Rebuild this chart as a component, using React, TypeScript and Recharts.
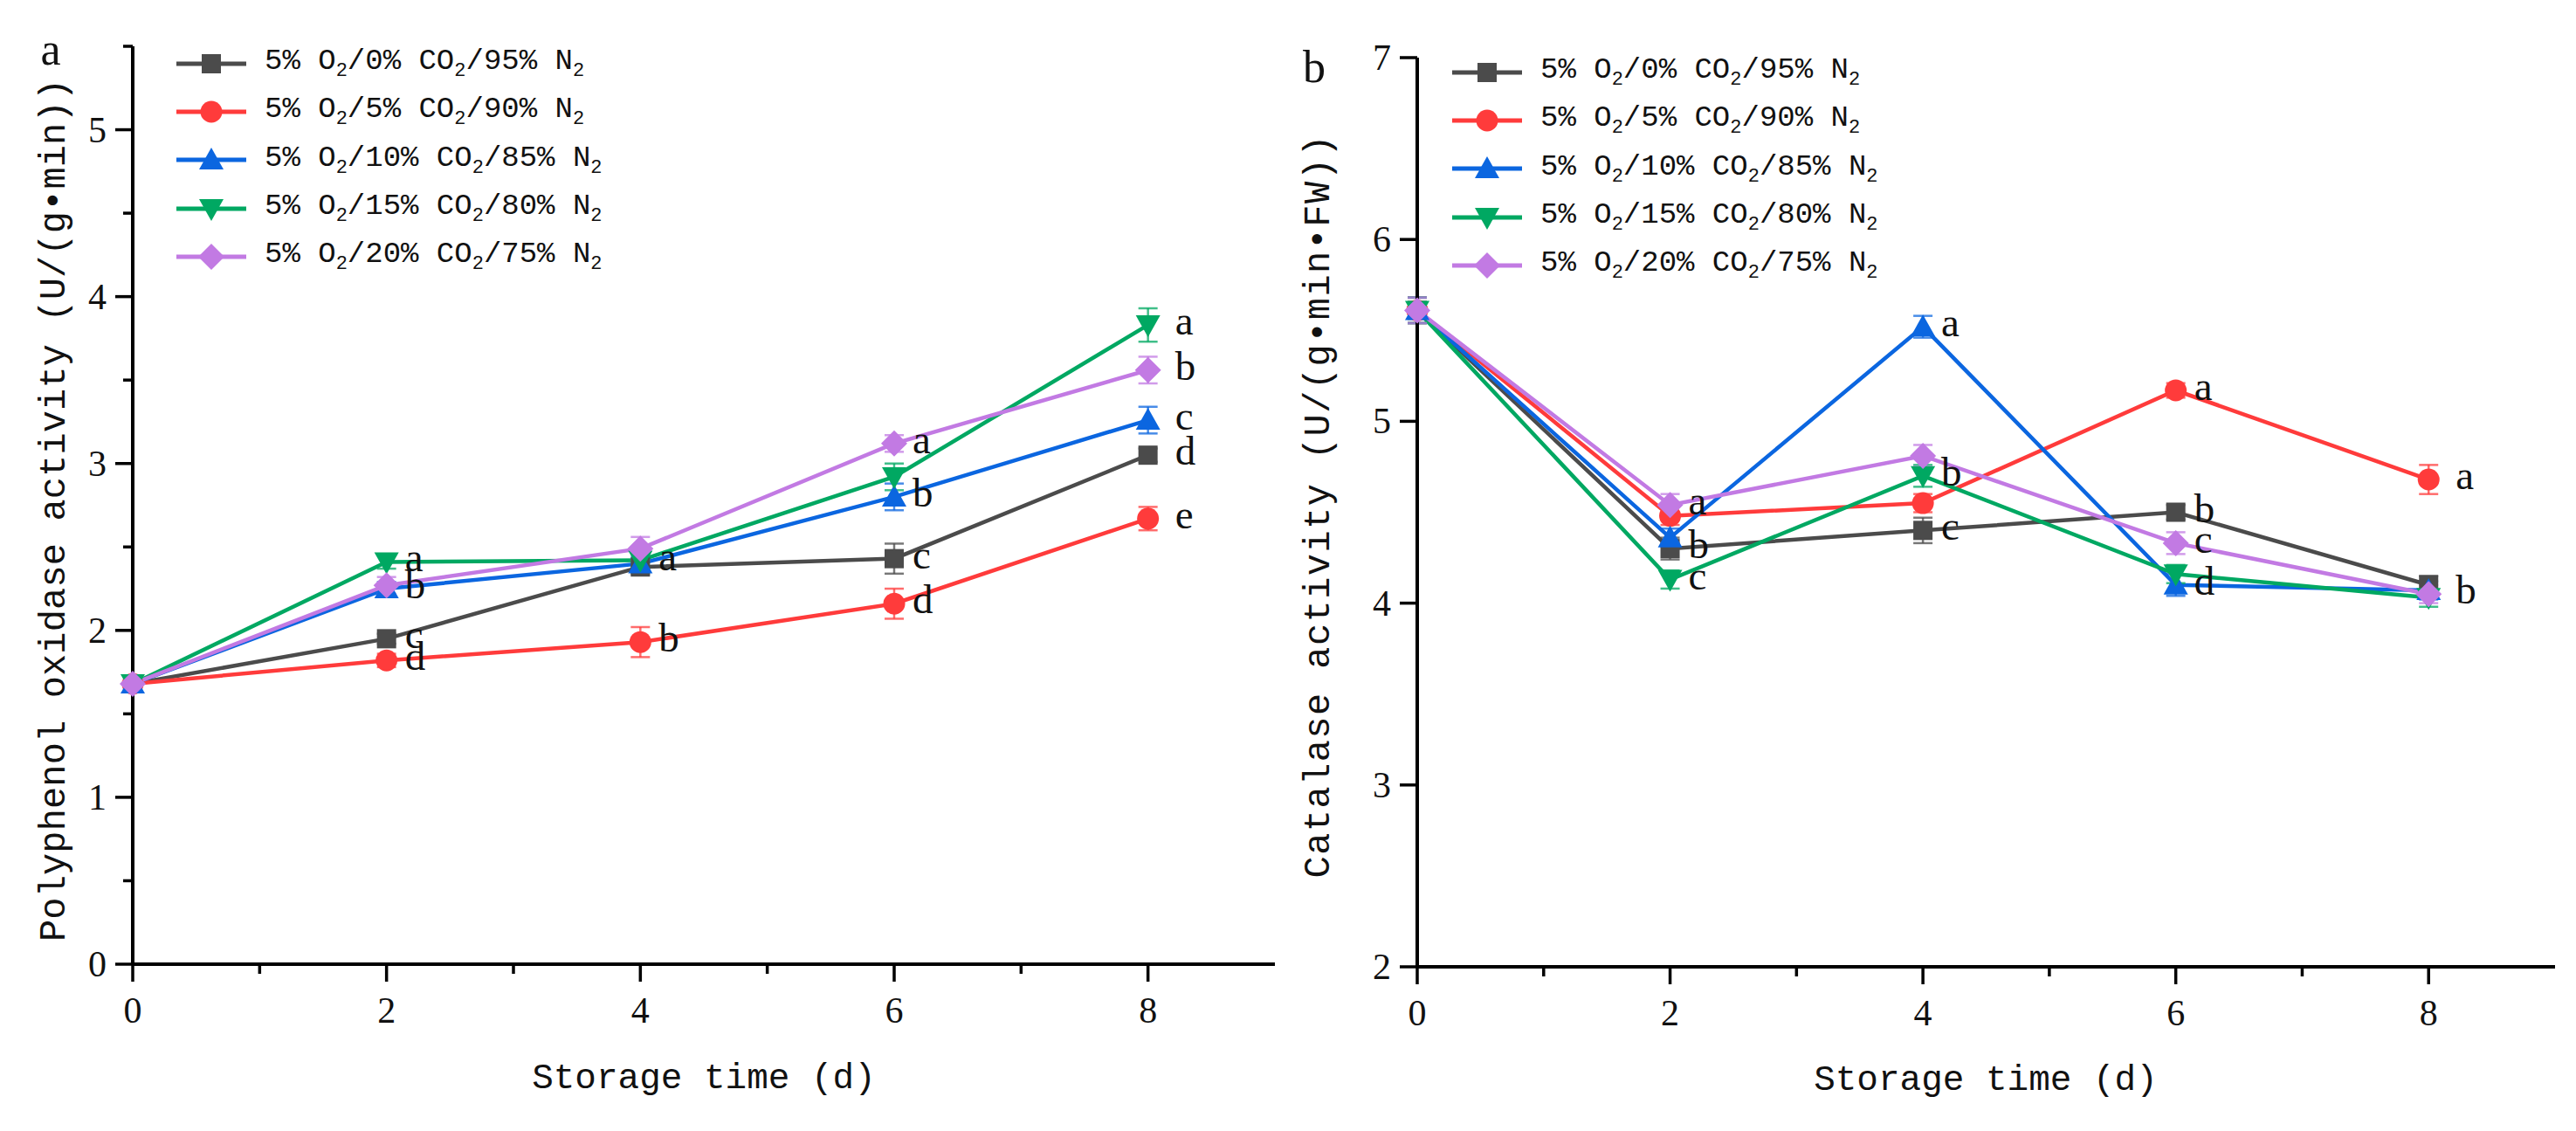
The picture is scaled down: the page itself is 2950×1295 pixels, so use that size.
import React from 'react';
import { ErrorBar, LabelList, Line, LineChart, XAxis, YAxis } from 'recharts';

// storage days
const days = [0, 2, 4, 6, 8];

// legend parts: 5% O2 / x% CO2 / y% N2
const co2Levels = ['0%', '5%', '10%', '15%', '20%'];
const n2Levels = ['95%', '90%', '85%', '80%', '75%'];

// polyphenol oxidase activity, one row per atmosphere
const ppoMeans = [
  [1.68, 1.95, 2.38, 2.43, 3.05],
  [1.68, 1.82, 1.93, 2.16, 2.67],
  [1.68, 2.25, 2.40, 2.80, 3.26],
  [1.68, 2.41, 2.42, 2.92, 3.83],
  [1.68, 2.27, 2.49, 3.12, 3.56],
];
const ppoErrors = [
  [0.03, 0.03, 0.04, 0.09, 0.04],
  [0.03, 0.04, 0.09, 0.09, 0.07],
  [0.03, 0.04, 0.04, 0.08, 0.08],
  [0.03, 0.04, 0.04, 0.08, 0.1],
  [0.03, 0.05, 0.07, 0.05, 0.08],
];
const ppoLetters = [
  ['', 'c', '', 'c', 'd'],
  ['', 'd', 'b', 'd', 'e'],
  ['', 'b', '', 'b', 'c'],
  ['', 'a', 'a', '', 'a'],
  ['', '', '', 'a', 'b'],
];

// catalase activity
const catMeans = [
  [5.61, 4.30, 4.40, 4.50, 4.10],
  [5.61, 4.48, 4.55, 5.17, 4.68],
  [5.61, 4.36, 5.52, 4.10, 4.07],
  [5.61, 4.13, 4.70, 4.16, 4.03],
  [5.61, 4.54, 4.81, 4.33, 4.05],
];
const catErrors = [
  [0.07, 0.06, 0.07, 0.04, 0.05],
  [0.07, 0.05, 0.05, 0.04, 0.08],
  [0.07, 0.05, 0.06, 0.06, 0.05],
  [0.07, 0.05, 0.06, 0.05, 0.05],
  [0.07, 0.06, 0.06, 0.06, 0.05],
];
const catLetters = [
  ['', 'b', 'c', 'b', ''],
  ['', '', '', 'a', 'a'],
  ['', '', 'a', 'd', ''],
  ['', 'c', 'b', '', ''],
  ['', 'a', '', 'c', 'b'],
];

const xTicks = [0, 1, 2, 3, 4, 5, 6, 7, 8];
const ppoTicks = [0, 0.5, 1, 1.5, 2, 2.5, 3, 3.5, 4, 4.5, 5, 5.5];
const catTicks = [2, 3, 4, 5, 6, 7];

const COLORS = ['#4b4b4b', '#ff3b3b', '#0b66e0', '#00a862', '#c27ae3'];
const SHAPES = ['square', 'circle', 'triangle', 'triangleDown', 'diamond'];

const MONO = '"Liberation Mono", "DejaVu Sans Mono", monospace';
const SERIF = '"Liberation Serif", "Times New Roman", serif';

function buildRows(means: number[][], errors: number[][], letters: string[][]) {
  return days.map((day, i) => {
    const row: Record<string, number | string> = { day };
    means.forEach((m, k) => {
      row[`v${k}`] = m[i];
      row[`e${k}`] = errors[k][i];
      row[`l${k}`] = letters[k][i];
    });
    return row;
  });
}

function Marker({ shape, cx, cy, color }: { shape: string; cx: number; cy: number; color: string }) {
  if (shape === 'square') return <rect x={cx - 11} y={cy - 11} width={22} height={22} fill={color} />;
  if (shape === 'circle') return <circle cx={cx} cy={cy} r={12.5} fill={color} />;
  if (shape === 'triangle')
    return <polygon points={`${cx},${cy - 14} ${cx - 14},${cy + 11} ${cx + 14},${cy + 11}`} fill={color} />;
  if (shape === 'triangleDown')
    return <polygon points={`${cx - 14},${cy - 11} ${cx + 14},${cy - 11} ${cx},${cy + 14}`} fill={color} />;
  return <polygon points={`${cx},${cy - 15} ${cx + 15},${cy} ${cx},${cy + 15} ${cx - 15},${cy}`} fill={color} />;
}

function XTick(props: any) {
  const { x, y, payload } = props;
  const major = payload.value % 2 === 0;
  return (
    <g>
      <line x1={x} x2={x} y1={y} y2={y + (major ? 20 : 11)} stroke="#000" strokeWidth={3.5} />
      {major && (
        <text x={x} y={y + 67} textAnchor="middle" fontFamily={SERIF} fontSize={42} fill="#111">
          {payload.value}
        </text>
      )}
    </g>
  );
}

function YTick(props: any) {
  const { x, y, payload } = props;
  const major = Number.isInteger(payload.value);
  return (
    <g>
      <line x1={x} x2={x - (major ? 20 : 11)} y1={y} y2={y} stroke="#000" strokeWidth={3.5} />
      {major && (
        <text x={x - 30} y={y + 14} textAnchor="end" fontFamily={SERIF} fontSize={42} fill="#111">
          {payload.value}
        </text>
      )}
    </g>
  );
}

function SigLabel(props: any) {
  const { x, y, value, index } = props;
  if (!value) return null;
  const dx = index === days.length - 1 ? 31 : 21;
  return (
    <text x={x + dx} y={y + 11} fontFamily={SERIF} fontSize={47} fill="#111">
      {value}
    </text>
  );
}

function SeriesLegend({ left, top }: { left: number; top: number }) {
  return (
    <div style={{ position: 'absolute', left, top, fontFamily: MONO, fontSize: 34, color: '#111' }}>
      {co2Levels.map((co2, k) => (
        <div key={k} style={{ height: 55.3, display: 'flex', alignItems: 'center', whiteSpace: 'pre' }}>
          <svg width={80} height={40} style={{ marginRight: 21 }}>
            <line x1={0} x2={80} y1={20} y2={20} stroke={COLORS[k]} strokeWidth={5} />
            <Marker shape={SHAPES[k]} cx={40} cy={20} color={COLORS[k]} />
          </svg>
          <span>
            5% O<sub style={{ fontSize: 22, verticalAlign: -8 }}>2</sub>/{co2} CO
            <sub style={{ fontSize: 22, verticalAlign: -8 }}>2</sub>/{n2Levels[k]} N
            <sub style={{ fontSize: 22, verticalAlign: -8 }}>2</sub>
          </span>
        </div>
      ))}
    </div>
  );
}

type PanelProps = {
  left: number;
  rows: Record<string, number | string>[];
  domain: [number, number];
  ticks: number[];
  top: number;
  right: number;
  yWidth: number;
  xHeight: number;
};

function Panel({ left, rows, domain, ticks, top, right, yWidth, xHeight }: PanelProps) {
  return (
    <div style={{ position: 'absolute', left, top: 0 }}>
      <LineChart width={1475} height={1295} data={rows} margin={{ top, right, bottom: 0, left: 0 }}>
        <XAxis
          dataKey="day"
          type="number"
          domain={[0, 9]}
          ticks={xTicks}
          interval={0}
          height={xHeight}
          tickSize={0}
          tickMargin={0}
          tickLine={false}
          axisLine={{ stroke: '#000', strokeWidth: 4 }}
          tick={(p: any) => <XTick {...p} />}
        />
        <YAxis
          type="number"
          domain={domain}
          ticks={ticks}
          interval={0}
          width={yWidth}
          tickSize={0}
          tickMargin={0}
          tickLine={false}
          allowDataOverflow
          axisLine={{ stroke: '#000', strokeWidth: 4 }}
          tick={(p: any) => <YTick {...p} />}
        />
        {COLORS.map((color, k) => (
          <Line
            key={k}
            type="linear"
            dataKey={`v${k}`}
            stroke={color}
            strokeWidth={4.5}
            isAnimationActive={false}
            activeDot={false}
            dot={(p: any) => (
              <Marker key={`dot-${k}-${p.index}`} shape={SHAPES[k]} cx={p.cx} cy={p.cy} color={color} />
            )}
          >
            <ErrorBar
              dataKey={`e${k}`}
              direction="y"
              width={11}
              stroke={color}
              strokeOpacity={0.75}
              strokeWidth={2.5}
              isAnimationActive={false}
            />
            <LabelList dataKey={`l${k}`} content={SigLabel} />
          </Line>
        ))}
      </LineChart>
    </div>
  );
}

const ppoRows = buildRows(ppoMeans, ppoErrors, ppoLetters);
const catRows = buildRows(catMeans, catErrors, catLetters);

export default function App() {
  return (
    <div style={{ position: 'absolute', left: 0, top: 0, width: 2950, height: 1295, background: '#fff', overflow: 'hidden' }}>
      <Panel left={0} rows={ppoRows} domain={[0, 5.5]} ticks={ppoTicks} top={53} right={15} yWidth={152} xHeight={191} />
      <Panel left={1475} rows={catRows} domain={[2, 7]} ticks={catTicks} top={66} right={24} yWidth={148} xHeight={188} />
      <SeriesLegend left={202} top={45} />
      <SeriesLegend left={1663} top={55} />
      <svg width={2950} height={1295} style={{ position: 'absolute', left: 0, top: 0, pointerEvents: 'none' }}>
        <text x={58} y={74} textAnchor="middle" fontFamily={SERIF} fontSize={52} fill="#111">a</text>
        <text x={1505} y={94} textAnchor="middle" fontFamily={SERIF} fontSize={52} fill="#111">b</text>
        <text
          transform="translate(63,584) rotate(-90)"
          textAnchor="middle"
          dominantBaseline="central"
          fontFamily={MONO}
          fontSize={42}
          textLength={988}
          lengthAdjust="spacing"
          fill="#111"
        >
          Polyphenol oxidase activity (U/(g•min))
        </text>
        <text
          transform="translate(1511,580) rotate(-90)"
          textAnchor="middle"
          dominantBaseline="central"
          fontFamily={MONO}
          fontSize={42}
          textLength={851}
          lengthAdjust="spacing"
          fill="#111"
        >
          Catalase activity (U/(g•min•FW))
        </text>
        <text x={806} y={1246} textAnchor="middle" fontFamily={MONO} fontSize={41} fill="#111">
          Storage time (d)
        </text>
        <text x={2274} y={1248} textAnchor="middle" fontFamily={MONO} fontSize={41} fill="#111">
          Storage time (d)
        </text>
      </svg>
    </div>
  );
}
